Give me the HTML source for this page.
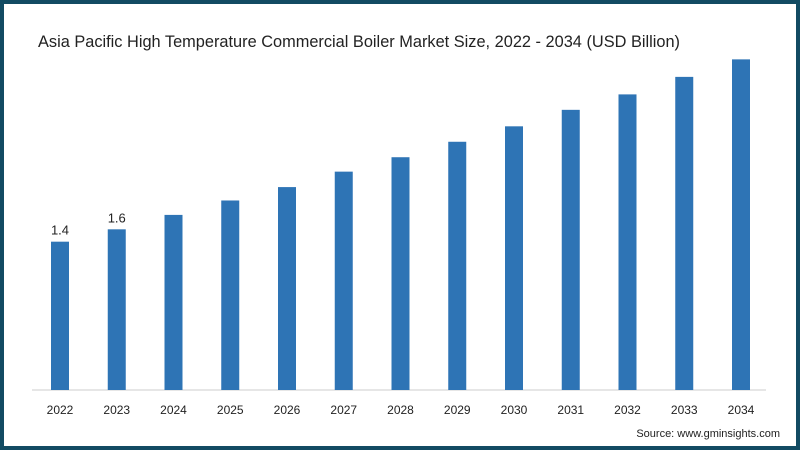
<!DOCTYPE html>
<html><head><meta charset="utf-8"><style>
body{margin:0;width:800px;height:450px;overflow:hidden;background:#fff;font-family:"Liberation Sans",sans-serif}
#frame{position:absolute;left:0;top:0;width:792px;height:442px;border:4px solid #124b63;background:#fff}
</style></head><body>
<div id="frame"></div>
<svg width="800" height="450" style="position:absolute;left:0;top:0">
<text x="38" y="47" font-size="17" textLength="642" lengthAdjust="spacingAndGlyphs" fill="#222">Asia Pacific High Temperature Commercial Boiler Market Size, 2022 - 2034 (USD Billion)</text>
<line x1="32" y1="390" x2="766" y2="390" stroke="#ccc" stroke-width="1"/>
<g id="bars"></g>
<text x="780" y="437" font-size="11" text-anchor="end" fill="#222">Source: www.gminsights.com</text>
</svg>
<script>
const categories=["2022","2023","2024","2025","2026","2027","2028","2029","2030","2031","2032","2033","2034"];
const values=[1.44,1.56,1.70,1.84,1.97,2.12,2.26,2.41,2.56,2.72,2.87,3.04,3.21];
const valueLabels=["1.4","1.6","","","","","","","","","","",""];
const g=document.getElementById('bars');
const ns="http://www.w3.org/2000/svg";
function xPos(i){return 60+i*56.75;}
function yPos(v){return 390-v*103;}
categories.forEach((c,i)=>{
  const r=document.createElementNS(ns,'rect');
  r.setAttribute('x',xPos(i)-9);r.setAttribute('y',yPos(values[i]));
  r.setAttribute('width',18);r.setAttribute('height',390-yPos(values[i]));
  r.setAttribute('fill','#2e74b5');
  
  
  g.appendChild(r);
  const t=document.createElementNS(ns,'text');
  t.setAttribute('x',xPos(i));t.setAttribute('y',414);t.setAttribute('text-anchor','middle');
  t.setAttribute('font-size','12');t.setAttribute('fill','#222');t.textContent=c;
  
  
  g.appendChild(t);
  if(valueLabels[i]){
    const l=document.createElementNS(ns,'text');
    l.setAttribute('x',xPos(i));l.setAttribute('y',yPos(values[i])-7);l.setAttribute('text-anchor','middle');
    l.setAttribute('font-size','13');l.setAttribute('fill','#222');l.textContent=valueLabels[i];
    
    
    g.appendChild(l);
  }
});
</script>
</body></html>
